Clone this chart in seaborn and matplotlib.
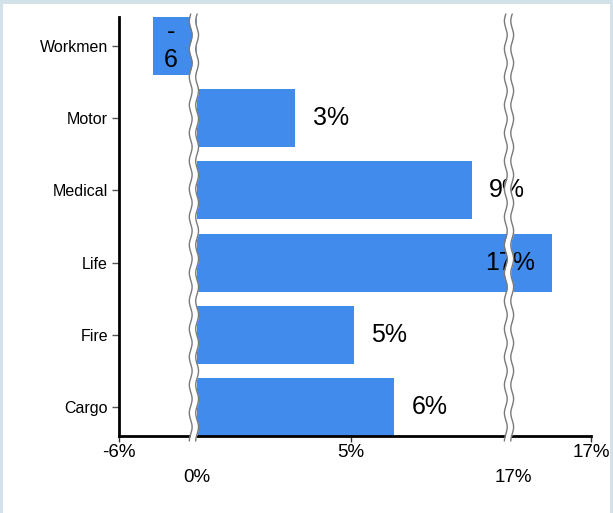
import numpy as np
import matplotlib
matplotlib.use("Agg")
import matplotlib.pyplot as plt
from matplotlib.patches import Rectangle
import seaborn as sns

# Datos (eje con cortes)
categories = ['Workmen', 'Motor', 'Medical', 'Life', 'Fire', 'Cargo']
bar_values = [-3.4, 3.2, 8.9, 17.0, 5.1, 6.4]
bar_labels = ['-\n6', '3%', '9%', '17%', '5%', '6%']

top_tick_values = [-6, 5, 18]
top_tick_labels = ['-6%', '5%', '17%']
low_tick_values = [0, 16]
low_tick_labels = ['0%', '17%']

# eje partido: tramos lineales unidos (valor -> posicion)
scale_vals = [-106, -6, 0, 10, 16, 18, 118]
scale_pos = [-1171, 119, 196.5, 505.5, 513, 591, 4491]
break_vals = [-0.2, 12.8]


def fwd(v):
    return np.interp(v, scale_vals, scale_pos)


def inv(p):
    return np.interp(p, scale_pos, scale_vals)


sns.set_style('white')
plt.rcParams['font.family'] = ['Liberation Sans', 'DejaVu Sans']
plt.rcParams['text.color'] = 'black'
plt.rcParams['xtick.color'] = 'black'
plt.rcParams['ytick.color'] = 'black'

fig = plt.figure(figsize=(6.13, 5.13), dpi=100)
fig.patch.set_facecolor('white')
ax = fig.add_axes([119 / 613, 1 - 436 / 513, 472 / 613, 419 / 513])

# marco claro arriba, izquierda y derecha
border = '#d3e1e8'
for (bx, by, bw, bh) in [(0, 0.992, 1, 0.008), (0, 0, 0.005, 1), (0.995, 0, 0.005, 1)]:
    fig.add_artist(Rectangle((bx, by), bw, bh, transform=fig.transFigure,
                             facecolor=border, edgecolor='none'))

sns.barplot(x=bar_values, y=categories, orient='h', color='#418bec',
            saturation=1, width=0.8, linewidth=0, ax=ax)

ax.set_xscale('function', functions=(fwd, inv))
ax.set_xlim(-6, 18)
ax.set_ylim(5.4, -0.4)

for s in ['top', 'right']:
    ax.spines[s].set_visible(False)
for s in ['left', 'bottom']:
    ax.spines[s].set_linewidth(2)
    ax.spines[s].set_color('black')

ax.set_xticks(top_tick_values)
ax.set_xticklabels(top_tick_labels, fontsize=13.5)
ax.set_xticks(low_tick_values, minor=True)
ax.set_xticklabels(low_tick_labels, minor=True, fontsize=13.5)
ax.tick_params(axis='x', which='major', bottom=True, length=4, width=1,
               color='#333333', pad=2)
ax.tick_params(axis='x', which='minor', bottom=True, length=0, pad=24)
ax.tick_params(axis='y', left=True, length=5, width=1, color='#555555',
               labelsize=11.5, pad=3)
ax.set_xlabel('')
ax.set_ylabel('')

# etiquetas de las barras
for i, (v, lab) in enumerate(zip(bar_values, bar_labels)):
    if v < 0:
        ax.text(v / 2 - 0.3, i, lab, ha='center', va='center',
                fontsize=18, linespacing=1.2)
    elif v > 16:
        ax.annotate(lab, (v, i), xytext=(-12, 0), textcoords='offset points',
                    ha='right', va='center', fontsize=18)
    else:
        ax.annotate(lab, (v, i), xytext=(12.5, 0), textcoords='offset points',
                    ha='left', va='center', fontsize=18)

# marcas de corte onduladas
x0, x1 = fwd(-6), fwd(18)
w_px = 472.0
y_px = np.linspace(14, 441, 300)
y_frac = (436 - y_px) / 419.0
wave = 1.4 * np.sin(2 * np.pi * y_px / 28.0)
for b in break_vals:
    c = (fwd(b) - x0) / (x1 - x0)
    left = c + (wave - 3.2) / w_px
    right = c + (wave + 3.2) / w_px
    ax.fill_betweenx(y_frac, left, right, color='white', transform=ax.transAxes,
                     clip_on=False, zorder=5, linewidth=0)
    ax.plot(left, y_frac, color='#7a7a7a', lw=1, transform=ax.transAxes,
            clip_on=False, zorder=6)
    ax.plot(right, y_frac, color='#7a7a7a', lw=1, transform=ax.transAxes,
            clip_on=False, zorder=6)

fig.savefig('out.png', dpi=100)
